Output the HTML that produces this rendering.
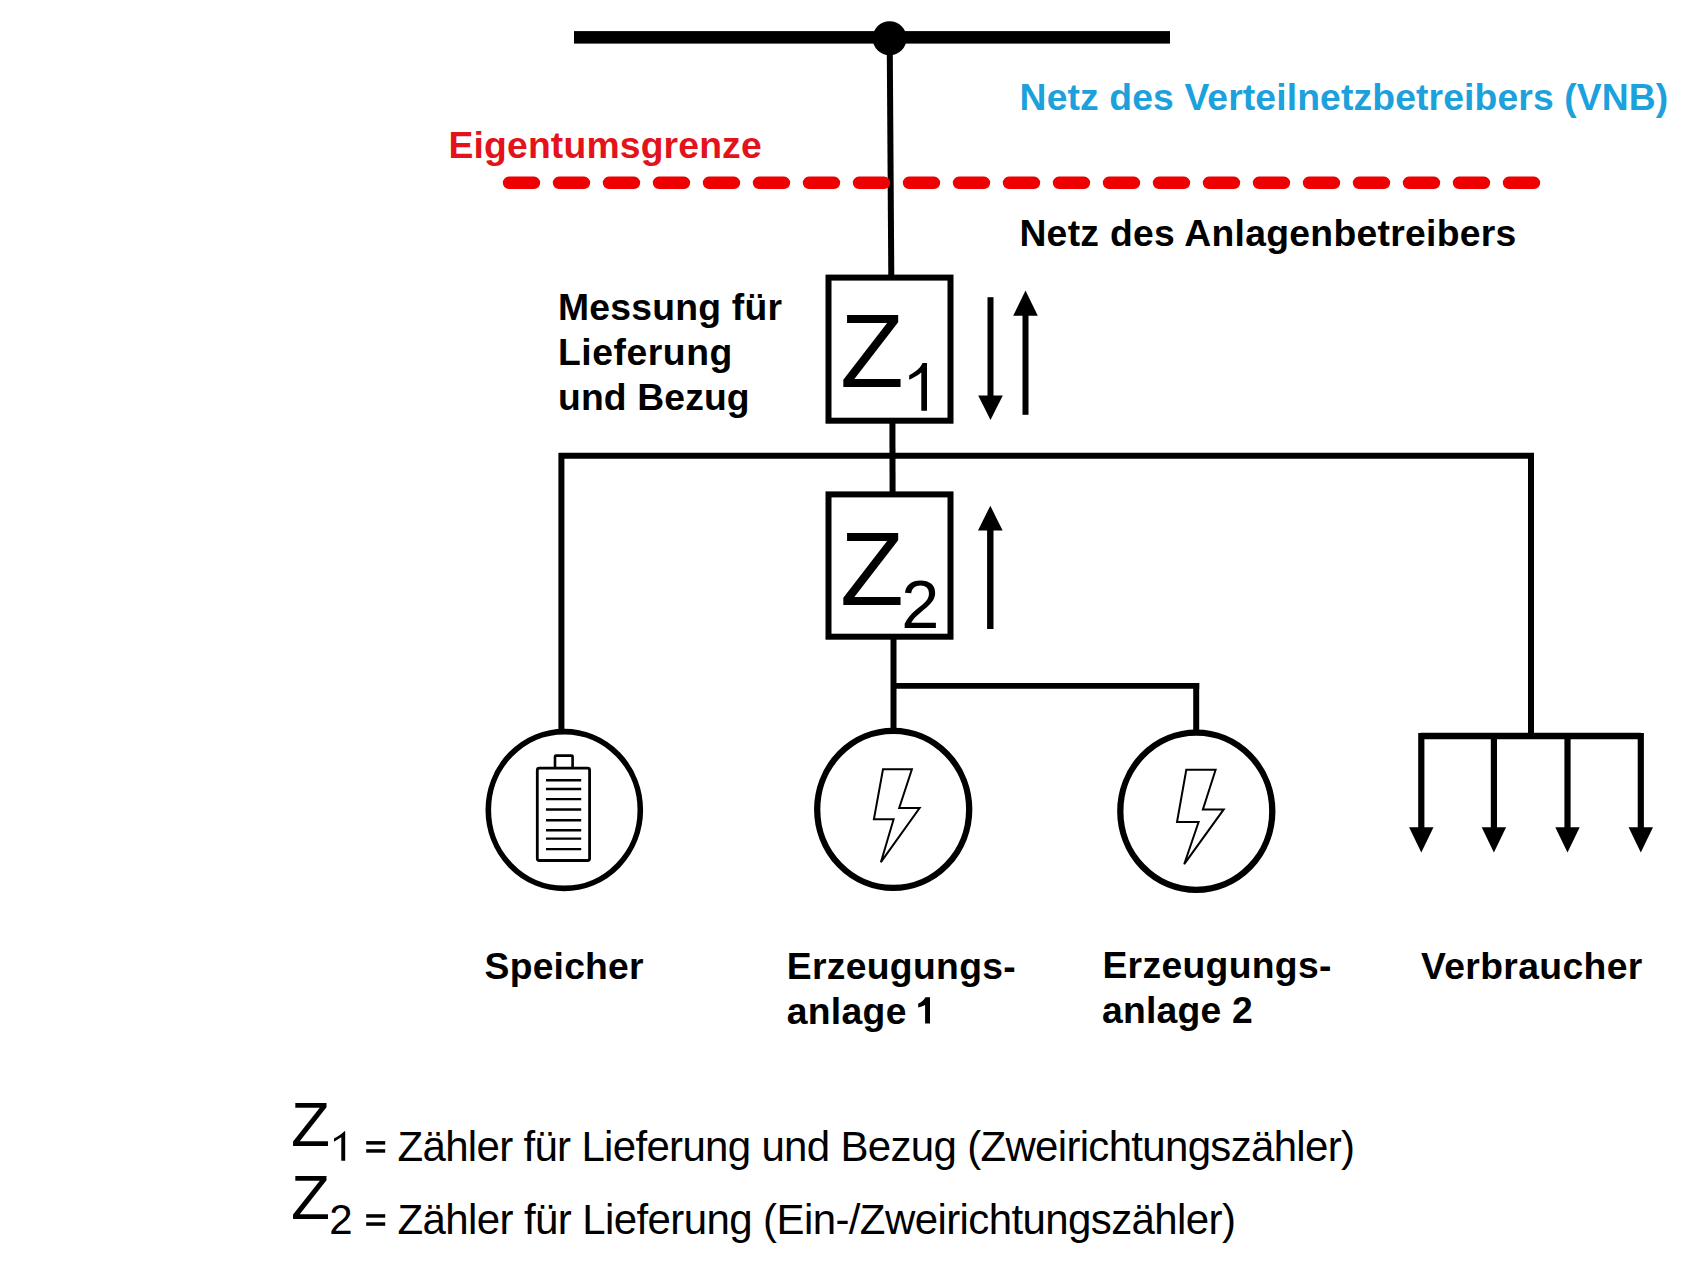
<!DOCTYPE html>
<html><head><meta charset="utf-8">
<style>
html,body{margin:0;padding:0;background:#fff;}
body{width:1706px;height:1279px;overflow:hidden;}
svg{display:block;}
text{font-family:"Liberation Sans",sans-serif;}
.b{font-weight:bold;font-size:37.3px;fill:#000;}
.r{font-weight:normal;fill:#000;}
</style></head>
<body>
<svg width="1706" height="1279" viewBox="0 0 1706 1279">
<rect x="0" y="0" width="1706" height="1279" fill="#fff"/>
<!-- top bus -->
<rect x="574" y="31.1" width="596" height="12.5" fill="#000"/>
<circle cx="889.6" cy="38.2" r="17" fill="#000"/>
<line x1="889.7" y1="38" x2="891.3" y2="277" stroke="#000" stroke-width="6"/>
<!-- red dashed -->
<line x1="509" y1="182.8" x2="1534" y2="182.8" stroke="#ee0000" stroke-width="12.4" stroke-dasharray="25 25" stroke-linecap="round"/>
<!-- texts top -->
<text class="b" x="1019.6" y="109.7" style="fill:#1da1dc;letter-spacing:0.117px">Netz des Verteilnetzbetreibers (VNB)</text>
<text class="b" x="448.5" y="157.5" style="fill:#e3121b;letter-spacing:0.165px">Eigentumsgrenze</text>
<text class="b" x="1019.4" y="245.8" style="letter-spacing:0.285px">Netz des Anlagenbetreibers</text>
<text class="b" x="558" y="319.8" style="letter-spacing:0.23px">Messung für</text>
<text class="b" x="558" y="364.8" style="letter-spacing:0.54px">Lieferung</text>
<text class="b" x="558" y="409.8" style="letter-spacing:0.13px">und Bezug</text>
<!-- Z1 box -->
<rect x="828.5" y="277.6" width="122" height="143.1" fill="none" stroke="#000" stroke-width="6"/>
<text class="r" x="840" y="387.4" font-size="104.5">Z</text>
<path d="M922.5,363 L927,363 L927,410.8 L921.3,410.8 L921.3,372.5 C917.5,375.5 913.5,378 909.2,379.8 L909.2,375.2 C912,373.8 915.5,371.6 918.5,368.8 C920.3,367 921.7,365 922.5,363 Z" fill="#000"/>
<line x1="892.4" y1="420" x2="892.6" y2="494" stroke="#000" stroke-width="6"/>
<!-- arrows Z1 -->
<line x1="990.5" y1="297.2" x2="990.5" y2="400" stroke="#000" stroke-width="6"/>
<polygon points="978.2,395.6 1002.8,395.6 990.5,420" fill="#000"/>
<line x1="1025.5" y1="310" x2="1025.5" y2="414.8" stroke="#000" stroke-width="6"/>
<polygon points="1013.2,315.8 1037.8,315.8 1025.5,290.5" fill="#000"/>
<!-- bus -->
<line x1="559" y1="455.7" x2="1534" y2="455.7" stroke="#000" stroke-width="6"/>
<line x1="561.4" y1="453" x2="561.4" y2="731" stroke="#000" stroke-width="6"/>
<line x1="1531" y1="453" x2="1531" y2="739" stroke="#000" stroke-width="6"/>
<!-- Z2 box -->
<rect x="828.5" y="494.4" width="122" height="142.3" fill="none" stroke="#000" stroke-width="6"/>
<text class="r" x="840" y="604.7" font-size="104.5">Z</text>
<text class="r" x="901.2" y="628" font-size="68.5">2</text>
<line x1="990.3" y1="525" x2="990.3" y2="629" stroke="#000" stroke-width="6.4"/>
<polygon points="978,530.5 1002.6,530.5 990.3,505.7" fill="#000"/>
<line x1="893.5" y1="636" x2="893.5" y2="731" stroke="#000" stroke-width="6"/>
<line x1="893" y1="685.9" x2="1199.2" y2="685.9" stroke="#000" stroke-width="5.6"/>
<line x1="1196.2" y1="683" x2="1196.2" y2="733" stroke="#000" stroke-width="6"/>
<!-- circles -->
<ellipse cx="564.3" cy="810" rx="76" ry="78.4" fill="none" stroke="#000" stroke-width="5.6"/>
<ellipse cx="893.2" cy="809.4" rx="76" ry="78.5" fill="none" stroke="#000" stroke-width="6.3"/>
<ellipse cx="1196.3" cy="811.2" rx="76" ry="78.6" fill="none" stroke="#000" stroke-width="6.3"/>
<!-- battery -->
<rect x="537.3" y="768.1" width="52.3" height="92.4" rx="2" fill="none" stroke="#000" stroke-width="2.8"/>
<path d="M555,767.5 V756.5 Q555,755.6 556,755.6 H571.6 Q572.6,755.6 572.6,756.5 V767.5" fill="none" stroke="#000" stroke-width="2.6"/>
<g stroke="#000" stroke-width="2.4">
<line x1="546" y1="780.2" x2="581.2" y2="780.2"/>
<line x1="546" y1="789" x2="581.2" y2="789"/>
<line x1="546" y1="799.1" x2="581.2" y2="799.1"/>
<line x1="546" y1="809.5" x2="581.2" y2="809.5"/>
<line x1="546" y1="820.2" x2="581.2" y2="820.2"/>
<line x1="546" y1="830.2" x2="581.2" y2="830.2"/>
<line x1="546" y1="838.6" x2="581.2" y2="838.6"/>
<line x1="546" y1="849.1" x2="581.2" y2="849.1"/>
</g>
<!-- bolts -->
<polygon points="883,769.3 911.9,769.3 899.2,808 919.6,808 880.9,862.2 893.6,819.2 873.9,819.2" fill="none" stroke="#000" stroke-width="2" stroke-linejoin="miter"/>
<polygon points="1186.3,769.8 1215.6,769.8 1202.9,809.4 1223.7,809.4 1184.2,864.2 1198.6,822 1177,822" fill="none" stroke="#000" stroke-width="2" stroke-linejoin="miter"/>
<!-- consumers -->
<line x1="1420.6" y1="736.1" x2="1640.8" y2="736.1" stroke="#000" stroke-width="6.5"/>
<g stroke="#000" stroke-width="6.2">
<line x1="1421.3" y1="733" x2="1421.3" y2="830"/>
<line x1="1493.9" y1="733" x2="1493.9" y2="830"/>
<line x1="1567.5" y1="733" x2="1567.5" y2="830"/>
<line x1="1640.8" y1="733" x2="1640.8" y2="830"/>
</g>
<g fill="#000">
<polygon points="1409.1,827.3 1433.5,827.3 1421.3,852.4"/>
<polygon points="1481.7,827.3 1506.1,827.3 1493.9,852.4"/>
<polygon points="1555.3,827.3 1579.7,827.3 1567.5,852.4"/>
<polygon points="1628.6,827.3 1653,827.3 1640.8,852.4"/>
</g>
<!-- labels -->
<text class="b" x="484.6" y="979.3" style="letter-spacing:0.2px">Speicher</text>
<text class="b" x="786.7" y="979.3" style="letter-spacing:0.32px">Erzeugungs-</text>
<text class="b" x="786.7" y="1024.3" style="letter-spacing:0.32px">anlage</text>
<path d="M925.5,997.2 H930 V1023.6 H925.1 V1004.9 C922.8,1006 920.6,1006.9 918.2,1007.6 V1003.6 C920.8,1002.6 923.6,1000.6 925.5,997.2 Z" fill="#000"/>
<text class="b" x="1102.4" y="978" style="letter-spacing:0.32px">Erzeugungs-</text>
<text class="b" x="1102" y="1023.2" style="letter-spacing:0.2px">anlage 2</text>
<text class="b" x="1421" y="979.3" style="letter-spacing:0.37px">Verbraucher</text>
<!-- legend -->
<text class="r" x="291" y="1146.3" font-size="63.8">Z</text>
<path d="M344.7,1130.9 L345.2,1131.5 L345.2,1160.8 L341.3,1160.8 L341.3,1137.3 C339,1138.9 336.5,1140.5 334,1141.7 L334,1138.4 C337.5,1136.7 341.5,1134.2 344.7,1130.9 Z" fill="#000"/>
<rect x="366.2" y="1141.1" width="19" height="3.5" fill="#000"/><rect x="366.2" y="1149.2" width="19" height="3.5" fill="#000"/>
<rect x="366.2" y="1214.2" width="19" height="3.5" fill="#000"/><rect x="366.2" y="1222.3" width="19" height="3.5" fill="#000"/>
<text class="r" x="397.5" y="1161" font-size="42" style="letter-spacing:-0.68px">Zähler für Lieferung und Bezug (Zweirichtungszähler)</text>
<text class="r" x="291" y="1219.4" font-size="63.8">Z</text>
<text class="r" x="329.2" y="1234" font-size="42">2</text>
<text class="r" x="397.5" y="1234" font-size="42" style="letter-spacing:-0.6px">Zähler für Lieferung (Ein-/Zweirichtungszähler)</text>
</svg>
</body></html>
